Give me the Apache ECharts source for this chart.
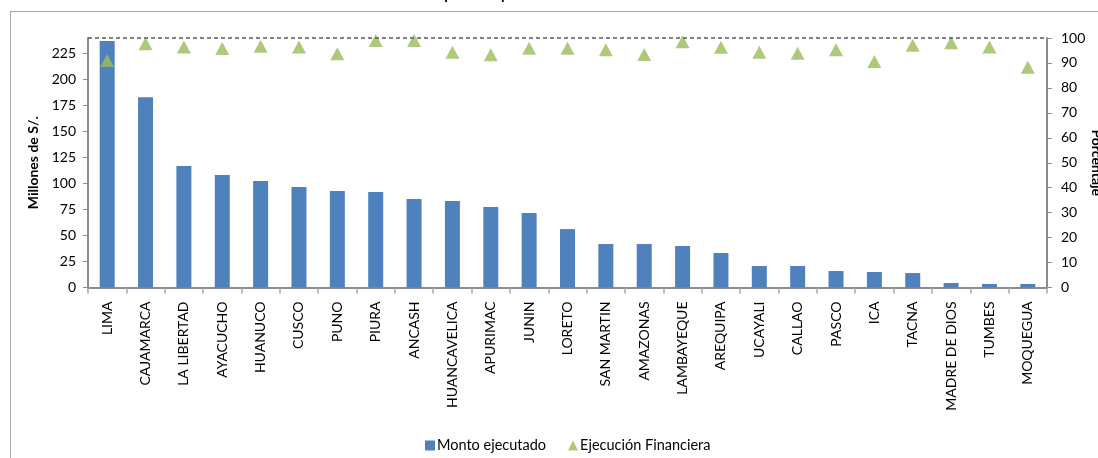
<!DOCTYPE html>
<html>
<head>
<meta charset="utf-8">
<script src="https://cdn.jsdelivr.net/npm/echarts@6/dist/echarts.min.js"></script>
<style>
html,body{margin:0;padding:0;background:#fff;}
#chart{width:1098px;height:458px;}
</style>
</head>
<body>
<div id="chart"></div>
<script>
var categories = ["LIMA","CAJAMARCA","LA LIBERTAD","AYACUCHO","HUANUCO","CUSCO","PUNO","PIURA","ANCASH","HUANCAVELICA","APURIMAC","JUNIN","LORETO","SAN MARTIN","AMAZONAS","LAMBAYEQUE","AREQUIPA","UCAYALI","CALLAO","PASCO","ICA","TACNA","MADRE DE DIOS","TUMBES","MOQUEGUA"];
var montoEjecutado = [237, 183, 116.8, 108.2, 102.4, 96.6, 92.8, 91.8, 85.1, 83.2, 77.4, 71.6, 56.2, 41.8, 41.8, 39.9, 33.2, 20.7, 20.7, 15.9, 14.9, 13.9, 4.3, 3.4, 3.4];
var ejecucionFinanciera = [91, 97.7, 96.4, 95.8, 96.7, 96.4, 93.7, 99, 99, 94.3, 93.3, 95.9, 95.9, 95.3, 93.4, 98.5, 96.3, 94.3, 93.9, 95.3, 90.6, 97.1, 98.1, 96.4, 88.3];
var seriesNames = ["Monto ejecutado", "Ejecución Financiera"];
var axisNames = ["Millones de S/.", "Porcentaje"];
var titleText = "por departamento 2016";

var FONT = "Lato, 'Open Sans', sans-serif";
var chart = echarts.init(document.getElementById('chart'), null, {renderer: 'canvas'});
chart.setOption({
  animation: false,
  backgroundColor: '#ffffff',
  textStyle: {fontFamily: FONT},
  title: {
    text: titleText, left: 'center', top: -22,
    textStyle: {fontFamily: FONT, fontSize: 20, fontWeight: 'normal', color: '#000'}
  },
  graphic: [
    {type: 'line', shape: {x1: 10, y1: 11.5, x2: 1098, y2: 11.5}, style: {stroke: '#a6a6a6', lineWidth: 1}},
    {type: 'line', shape: {x1: 10.5, y1: 11, x2: 10.5, y2: 458}, style: {stroke: '#a6a6a6', lineWidth: 1}}
  ],
  grid: {left: 88, right: 51, top: 38, bottom: 170.5, outerBoundsMode: 'none', containLabel: false},
  legend: {
    left: 420, top: 433,
    itemWidth: 10, itemHeight: 10, itemGap: 22,
    textStyle: {fontFamily: FONT, fontSize: 14.5, color: '#000', padding: [0, 0, 0, -3]},
    data: [
      {name: seriesNames[0], icon: 'rect'},
      {name: seriesNames[1], icon: 'triangle'}
    ]
  },
  xAxis: {
    type: 'category',
    data: categories,
    axisLine: {lineStyle: {color: '#8c8c8c', width: 2}},
    axisTick: {show: true, alignWithLabel: false, length: 6, lineStyle: {color: '#a6a6a6', width: 1.5}},
    axisLabel: {rotate: 90, interval: 0, margin: 14, fontFamily: FONT, fontSize: 14, color: '#000'}
  },
  yAxis: [
    {
      type: 'value', min: 0, max: 240, interval: 25,
      name: axisNames[0], nameLocation: 'middle', nameRotate: 90, nameGap: 46,
      nameTextStyle: {fontFamily: FONT, fontSize: 14, fontWeight: 'bold', color: '#000'},
      axisLine: {show: true, lineStyle: {color: '#8c8c8c', width: 2}},
      axisTick: {show: true, length: 5, lineStyle: {color: '#8c8c8c'}},
      axisLabel: {margin: 12, fontFamily: FONT, fontSize: 14, color: '#000', showMaxLabel: false},
      splitLine: {show: false}
    },
    {
      type: 'value', min: 0, max: 100, interval: 10, position: 'right',
      name: axisNames[1], nameLocation: 'middle', nameRotate: -90, nameGap: 43, nameMoveOverlap: false,
      nameTextStyle: {fontFamily: FONT, fontSize: 14, fontWeight: 'bold', color: '#000'},
      axisLine: {show: true, lineStyle: {color: '#8c8c8c', width: 2}},
      axisTick: {show: true, length: 5, lineStyle: {color: '#8c8c8c'}},
      axisLabel: {margin: 14, fontFamily: FONT, fontSize: 14, color: '#000'},
      splitLine: {show: false}
    }
  ],
  series: [
    {
      name: seriesNames[0], type: 'bar', yAxisIndex: 0,
      data: montoEjecutado, barWidth: 15,
      itemStyle: {color: '#4F81BD'}
    },
    {
      name: seriesNames[1], type: 'scatter', yAxisIndex: 1,
      data: ejecucionFinanciera, symbol: 'triangle', symbolSize: [14, 13],
      itemStyle: {color: '#9BBB59'},
      markLine: {
        silent: true, symbol: 'none', label: {show: false},
        lineStyle: {type: [4, 3], color: '#595959', width: 1.5},
        data: [{yAxis: 100}]
      }
    }
  ]
});
</script>
</body>
</html>
